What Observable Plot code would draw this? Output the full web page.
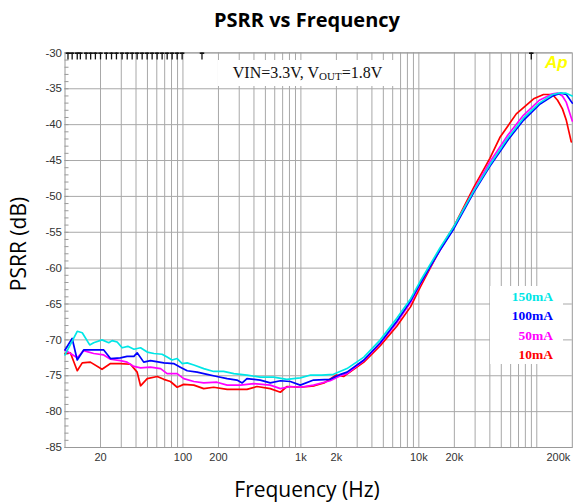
<!DOCTYPE html>
<html><head><meta charset="utf-8">
<script src="https://cdn.jsdelivr.net/npm/d3@7"></script>
<script src="https://cdn.jsdelivr.net/npm/@observablehq/plot@0.6"></script>
<style>
body{margin:0;background:#fff;}
#wrap{position:relative;width:573px;height:503px;overflow:hidden;font-family:"Open Sans",sans-serif;color:#000;}
#title{position:absolute;left:0;width:614px;top:10px;text-align:center;font-size:20px;line-height:20px;font-weight:bold;}
#chart{position:absolute;left:0;top:40px;}
#xlabel{position:absolute;left:0;width:614px;top:479px;text-align:center;font-size:21px;line-height:21px;}
#ylabel{position:absolute;left:18px;top:244px;transform:translate(-50%,-50%) rotate(-90deg);font-size:21px;line-height:21px;white-space:nowrap;}
#note{position:absolute;left:218px;top:60px;width:179px;height:26px;background:#fff;font-family:"Liberation Serif",serif;font-size:16px;line-height:26px;text-align:center;color:#111;}
#note .sub{font-size:11px;position:relative;top:2px;}
#legend{position:absolute;left:490px;top:286px;width:73px;height:78px;background:#fff;}
#legend div{position:absolute;right:10px;font-family:"Liberation Serif",serif;font-size:13.5px;line-height:14px;font-weight:bold;white-space:nowrap;}
#ap{position:absolute;left:545px;top:54px;font-family:"Liberation Sans",Arial,sans-serif;font-size:17px;line-height:17px;font-weight:bold;font-style:italic;color:#ffff00;}
</style></head><body>
<div id="wrap">
  <div id="title">PSRR vs Frequency</div>
  <div id="chart"></div>
  <div id="xlabel">Frequency (Hz)</div>
  <div id="ylabel">PSRR (dB)</div>
  <div id="note">VIN=3.3V, V<span class="sub">OUT</span>=1.8V</div>
  <div id="legend"></div>
  <div id="ap">Ap</div>
</div>
<script>
// ---- data ----
const seriesNames = ["150mA", "100mA", "50mA", "10mA"];
const seriesColors = ["#00e6e6", "#0000ff", "#ff00ff", "#ff0000"];

const f150 = [10, 12.7, 14, 16.2, 17.5, 20.6, 23.5, 25.1, 27.7, 30.5, 34.1, 38.4, 43.7, 49.8, 56.7, 66.5, 73.4, 80.8, 89.3, 98.6, 108.6, 123.7, 150, 182, 221, 270, 349, 452, 587, 760, 988, 1210, 1500, 1890, 2460, 3420, 4710, 6500, 8500, 10300, 15100, 19800, 29300, 40000, 56000, 77000, 105000, 136000, 155000, 175000, 200000];
const db150 = [-72.1, -68.8, -69.0, -70.7, -70.4, -70.0, -70.4, -70.1, -70.3, -71.1, -70.9, -71.3, -71.1, -71.7, -71.9, -72.0, -72.4, -72.8, -72.6, -73.3, -73.2, -73.5, -74.0, -74.4, -74.4, -74.7, -74.9, -75.2, -75.2, -75.5, -75.3, -74.9, -74.9, -74.8, -74.0, -72.4, -70.0, -67.0, -64.3, -61.8, -57.2, -54.2, -49.2, -45.6, -42.0, -39.1, -37.0, -35.8, -35.6, -35.6, -36.0];

const f100 = [10, 11.5, 12.7, 14.4, 21.3, 24.3, 29.5, 33.6, 38.4, 40.9, 46.5, 53, 68.8, 83.4, 95, 108.6, 132, 160, 194, 237, 287, 318, 349, 452, 550, 670, 813, 988, 1280, 1770, 2170, 2460, 3420, 4710, 6500, 8500, 10300, 15100, 19800, 29300, 40000, 56000, 77000, 105000, 136000, 160000, 178000, 200000];
const db100 = [-71.4, -69.8, -72.8, -71.4, -71.4, -72.6, -72.5, -72.3, -72.3, -71.8, -73.1, -72.9, -73.2, -73.3, -73.8, -74.3, -74.5, -74.8, -75.1, -75.4, -75.6, -76.0, -75.4, -75.6, -76.0, -75.7, -75.8, -76.3, -75.6, -75.5, -74.8, -74.5, -72.8, -70.4, -67.4, -64.6, -62.1, -57.5, -54.5, -49.4, -45.8, -42.3, -39.4, -37.2, -36.0, -35.6, -35.8, -37.0];

const f50 = [10, 12.7, 14.4, 17.5, 21.3, 24.3, 29.5, 33.6, 38.4, 43.7, 53, 64.6, 73.4, 89.3, 101.5, 123.7, 150, 194, 237, 307, 397, 550, 670, 813, 988, 1280, 1770, 2170, 2460, 3420, 4710, 6500, 8500, 10300, 15100, 19800, 29300, 40000, 56000, 77000, 105000, 136000, 150000, 165000, 178000, 200000];
const db50 = [-71.4, -72.5, -71.5, -71.9, -72.1, -72.7, -72.9, -73.1, -73.7, -73.9, -73.8, -74.0, -74.7, -74.7, -75.4, -75.8, -76.0, -75.9, -76.3, -76.3, -76.1, -76.3, -76.8, -76.5, -76.6, -76.3, -75.7, -75.0, -74.7, -72.9, -70.5, -67.6, -64.8, -62.2, -57.5, -54.4, -49.1, -45.2, -41.6, -38.7, -36.6, -35.7, -35.6, -36.0, -36.9, -39.5];

const f10 = [10, 11.1, 12.7, 14, 16.4, 20.6, 24.3, 29.5, 35.9, 40.9, 43.7, 49.8, 60.5, 68.8, 78.3, 89.3, 101.5, 123.7, 150, 182, 237, 349, 424, 550, 670, 760, 988, 1300, 1570, 2000, 2300, 3420, 4710, 6500, 8500, 10300, 15100, 19800, 29300, 40000, 48600, 67000, 94000, 114000, 136000, 150000, 165000, 178000, 196000];
const db10 = [-71.9, -71.8, -74.3, -73.2, -73.1, -74.1, -73.3, -73.3, -73.4, -74.5, -76.4, -75.4, -75.1, -75.5, -75.8, -76.6, -76.2, -76.3, -76.8, -76.6, -76.9, -76.9, -76.5, -76.8, -77.3, -76.5, -76.6, -76.4, -76.0, -74.9, -75.1, -73.1, -70.8, -68.1, -65.4, -62.6, -57.4, -54.2, -48.7, -44.7, -41.8, -38.5, -36.4, -35.8, -35.8, -36.6, -37.8, -39.4, -42.4];

// tick labels
const xTickValues = [20, 50, 100, 200, 500, 1000, 2000, 5000, 10000, 20000, 50000, 200000];
const xTickLabels = ["20", "50", "100", "200", "500", "1k", "2k", "5k", "10k", "20k", "50k", "200k"];
const yTickValues = [-30, -35, -40, -45, -50, -55, -60, -65, -70, -75, -80, -85];
const yTickLabels = ["-30", "-35", "-40", "-45", "-50", "-55", "-60", "-65", "-70", "-75", "-80", "-85"];
const yMinorTicks = d3.range(-85, -29, 1);
const gridDecades = [10, 100, 1000, 10000, 100000];
const gridMultipliers = [1, 2, 3, 4, 5, 6, 7, 8, 9];
// analyzer cursor markers along the top edge
const markerFreqs = [10.6, 11.5, 12.7, 13.5, 15.1, 16.5, 18.1, 20.0, 22.4, 24.8, 27.3, 30.5, 33.7, 37.1, 40.9, 45.1, 49.7, 54.8, 60.4, 66.6, 73.5, 81.0, 89.3, 98.4, 145, 89800];

// ---- build ----
const W = 573, H = 430, MT = 12.4, MB = 23;
const frameH = H - MT - MB;
const seriesF = [f150, f100, f50, f10];
const seriesDb = [db150, db100, db50, db10];
const rows = [];
for (let s = seriesNames.length - 1; s >= 0; s--) {
  seriesF[s].forEach((f, i) => rows.push({series: seriesNames[s], f, db: seriesDb[s][i]}));
}
const gridFreqs = gridDecades.flatMap(d => gridMultipliers.map(m => d * m)).filter(f => f > 10 && f < 200000);
const xLabel = new Map(xTickValues.map((v, i) => [v, xTickLabels[i]]));
const yLabel = new Map(yTickValues.map((v, i) => [v, yTickLabels[i]]));

const chart = Plot.plot({
  width: W,
  height: H,
  marginTop: MT,
  marginBottom: MB,
  marginLeft: 64.5,
  marginRight: 1.2,
  style: {fontFamily: "'Liberation Sans', Arial, sans-serif", fontSize: "11px", color: "#333", background: "transparent"},
  x: {type: "log", domain: [10, 200000]},
  y: {domain: [-85, -30]},
  color: {domain: seriesNames, range: seriesColors},
  marks: [
    Plot.ruleX(gridFreqs, {stroke: "#a8a8a8", strokeWidth: 1}),
    Plot.ruleY(yTickValues, {stroke: "#a8a8a8", strokeWidth: 1}),
    Plot.axisY({ticks: yMinorTicks, tickSize: -4, tickFormat: () => "", label: null, stroke: "#999"}),
    Plot.axisY({ticks: yTickValues, tickSize: 0, tickPadding: 3, tickFormat: d => yLabel.get(d), label: null, fontSize: 11.5}),
    Plot.axisX({ticks: xTickValues.slice(0, -1), tickSize: 0, tickPadding: 6, tickFormat: d => xLabel.get(d), label: null}),
    Plot.axisX({ticks: xTickValues.slice(-1), tickSize: 0, tickPadding: 6, tickFormat: d => xLabel.get(d), label: null, textAnchor: "end", dx: -2}),
    Plot.frame({stroke: "#999"}),
    // T-shaped cursor markers: stem + crossbar
    Plot.tickX(markerFreqs, {x: d => d, insetBottom: frameH - 7, stroke: "#111", strokeWidth: 1.3}),
    Plot.tickX(markerFreqs, {x: d => d, insetBottom: frameH - 1.6, stroke: "#111", strokeWidth: 4.5}),
    Plot.line(rows, {x: "f", y: "db", z: "series", stroke: "series", strokeWidth: 1.7})
  ]
});
document.getElementById("chart").appendChild(chart);

// legend labels
const legend = document.getElementById("legend");
seriesNames.forEach((name, i) => {
  const el = document.createElement("div");
  el.textContent = name;
  el.style.color = seriesColors[i];
  el.style.top = (4.0 + i * 19.4) + "px";
  legend.appendChild(el);
});
</script>
</body></html>
